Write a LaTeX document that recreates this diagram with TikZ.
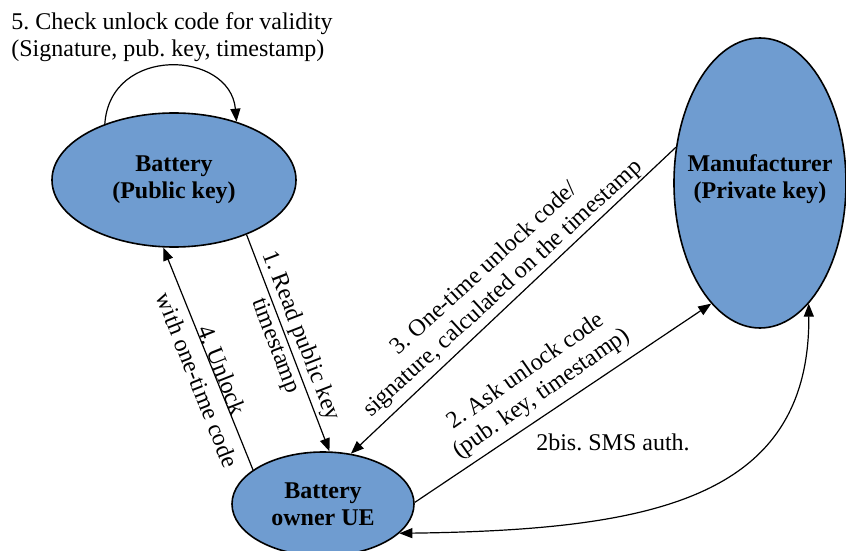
\documentclass[tikz,border=0pt]{standalone}
\usepackage{fontspec}
\setmainfont{Liberation Serif}
\usetikzlibrary{shapes.geometric,arrows.meta}
\definecolor{nodeblue}{RGB}{111,156,208}
\frenchspacing
\begin{document}
\begin{tikzpicture}[x=0.5pt,y=-0.5pt,
  ent/.style={ellipse,draw=black,line width=0.8pt,fill=nodeblue,inner sep=0pt},
  enttext/.style={inner sep=0pt,align=center,font=\fontsize{12}{13.5}\selectfont\bfseries},
  conn/.style={line width=0.6pt,-{Triangle[length=6.5pt,width=5pt]}},
  both/.style={line width=0.6pt,{Triangle[length=6.5pt,width=5pt]}-{Triangle[length=6.5pt,width=5pt]}},
  lbl/.style={inner sep=0pt,align=center,font=\fontsize{12}{13.5}\selectfont}]
\useasboundingbox (0,0) rectangle (846,551);
\node[ent,minimum width=122pt,minimum height=67pt] (bat) at (174,180) {};
\node[ent,minimum width=86pt,minimum height=145pt] (man) at (760,183) {};
\node[ent,minimum width=91pt,minimum height=52pt] (ue) at (323,504) {};
\node[enttext] (batt) at (bat) {Battery\\(Public key)};
\node[enttext] (mant) at ([yshift=2pt]man.center) {Manufacturer\\(Private key)};
\node[enttext] (uet) at (ue) {Battery\\owner UE};
\node[lbl,align=left,anchor=north west] (l5) at (11,12.7) {5. Check unlock code for validity\\(Signature, pub. key, timestamp)};
\node[lbl,rotate=-68.9] (l1) at (288,341) {1. Read public key\\timestamp};
\node[lbl,rotate=-68.4] (l4) at (210,375) {4. Unlock\\with one-time code};
\node[lbl,rotate=42.5] (l3) at (494,279) {3. One-time unlock code/\\signature, calculated on the timestamp};
\node[lbl,rotate=35] (l2) at (534,383) {2. Ask unlock code\\(pub. key, timestamp)};
\node[lbl] (l2b) at (613,442) {2bis. SMS auth.};
\draw[conn] (bat.141) .. controls (110,45) and (230,50) .. (bat.43);
\draw[conn] (bat.-37) -- (ue.83);
\draw[conn] (ue.154) -- (bat.-99);
\draw[conn] (man.157) -- (ue.61);
\draw[conn] (ue.1) -- (man.-112);
\draw[both] (ue.-21) .. controls (650,530) and (810,500) .. (man.-68);
\end{tikzpicture}
\end{document}
